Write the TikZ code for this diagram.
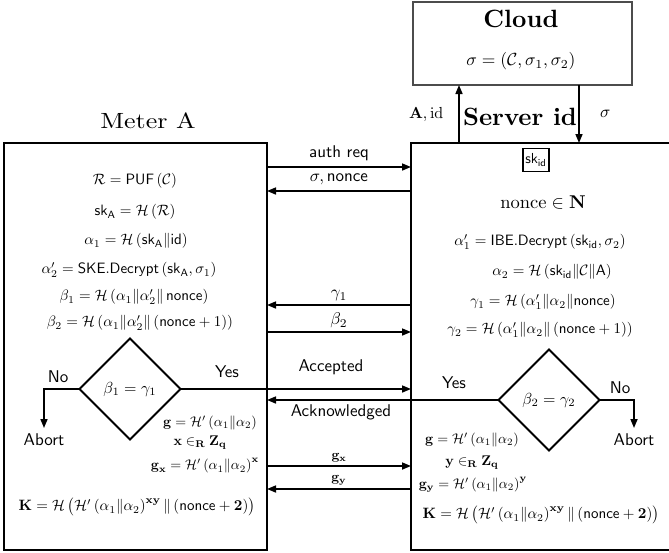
\documentclass[tikz,border=0pt]{standalone}
\usepackage{amsmath}
\usepackage{amssymb}
\usetikzlibrary{positioning, arrows.meta, shapes.geometric}

\newcommand{\Hs}{\mathcal{H}}
\newcommand{\nc}{\mathsf{nonce}}

\begin{document}
\begin{tikzpicture}[
  x=1pt, y=-1pt,
  font=\fontsize{10}{12}\selectfont,
  party/.style={draw, line width=2pt, minimum width=263pt, minimum height=407pt, inner sep=0pt, outer sep=0pt},
  store/.style={draw=black!70, line width=2pt, minimum width=219pt, minimum height=83pt, inner sep=0pt, outer sep=0pt},
  msg/.style={-{Triangle[length=9pt, width=7pt]}, line width=1.6pt},
  check/.style={diamond, draw, line width=2pt, aspect=1, minimum size=101pt, inner sep=0pt, outer sep=0pt},
  txt/.style={scale=1.5},
  keytxt/.style={scale=1.4},
  lbl/.style={font=\fontsize{10}{12}\sffamily, scale=1.7},
  mlbl/.style={scale=1.7}
]
  \useasboundingbox (0,0) rectangle (669,552);

  % the three parties
  \node[party] (meter) at (135.5,346.5) {};
  \node[party, minimum width=262pt] (server) at (542,346.5) {};
  \node[store] (cloud) at (522.5,43.5) {};

  \node[xscale=2.6, yscale=2.2] (meterT) at (148,121) {Meter A};
  \node[scale=2.5, font=\bfseries] (serverT) at (520,117) {Server id};
  \node[scale=2.5, font=\bfseries] (cloudT) at (521,19) {Cloud};
  \node[scale=1.75] (sigma) at (521,61) {$\sigma=\left(\mathcal{C},\sigma_1,\sigma_2\right)$};

  % server <-> cloud
  \coordinate (xup) at (459,0);
  \coordinate (xdown) at (579,0);
  \draw[msg] (server.north -| xup) -- (cloud.south -| xup) node[midway, left=9pt, scale=1.6] {$\mathbf{A},\mathrm{id}$};
  \draw[msg] (cloud.south -| xdown) -- (server.north -| xdown) node[midway, right=14pt, mlbl] {$\sigma$};

  % meter computations
  \node[txt] (m1) at (135,181) {$\mathcal{R}=\mathsf{PUF}\left(\mathcal{C}\right)$};
  \node[txt] (m2) at (135,212) {$\mathsf{sk}_{\mathsf{A}}=\Hs\left(\mathcal{R}\right)$};
  \node[txt] (m3) at (136,241) {$\alpha_1=\Hs\left(\mathsf{sk}_{\mathsf{A}}\|\mathsf{id}\right)$};
  \node[txt] (m4) at (129,270) {$\alpha'_2=\mathsf{SKE.Decrypt}\left(\mathsf{sk}_{\mathsf{A}},\sigma_1\right)$};
  \node[txt] (m5) at (134,297) {$\beta_1=\Hs\left(\alpha_1\|\alpha'_2\|\,\nc\right)$};
  \node[txt] (m6) at (140,323) {$\beta_2=\Hs\left(\alpha_1\|\alpha'_2\|\left(\nc+1\right)\right)$};

  % server computations
  \node[draw, line width=1.5pt, inner sep=1.5pt, minimum height=16pt, scale=1.45] (skid) at (536,160) {$\mathsf{sk}_{\mathsf{id}}$};
  \node[scale=1.85] (s0) at (543,203) {$\mathrm{nonce}\in\mathbf{N}$};
  \node[txt] (s1) at (540,242) {$\alpha'_1=\mathsf{IBE.Decrypt}\left(\mathsf{sk}_{\mathsf{id}},\sigma_2\right)$};
  \node[txt] (s2) at (552,272) {$\alpha_2=\Hs\left(\mathsf{sk}_{\mathsf{id}}\|\mathcal{C}\|\mathsf{A}\right)$};
  \node[txt] (s3) at (543,302) {$\gamma_1=\Hs\left(\alpha'_1\|\alpha_2\|\nc\right)$};
  \node[txt] (s4) at (540,330) {$\gamma_2=\Hs\left(\alpha'_1\|\alpha_2\|\left(\nc+1\right)\right)$};

  % messages between meter and server
  \coordinate (y1) at (0,167);
  \coordinate (y2) at (0,191);
  \coordinate (y3) at (0,305);
  \coordinate (y4) at (0,332);
  \coordinate (y5) at (0,466);
  \coordinate (y6) at (0,489);
  \draw[msg] (meter.east |- y1) -- (server.west |- y1) node[midway, above=-1pt, lbl] {auth req};
  \draw[msg] (server.west |- y2) -- (meter.east |- y2) node[midway, above=-1pt, mlbl] {$\sigma,\nc$};
  \draw[msg] (server.west |- y3) -- (meter.east |- y3) node[midway, above=-3pt, mlbl] {$\gamma_1$};
  \draw[msg] (meter.east |- y4) -- (server.west |- y4) node[midway, above=-3pt, mlbl] {$\beta_2$};
  \draw[msg] (meter.east |- y5) -- (server.west |- y5) node[midway, above=-2pt, scale=1.36] {$\mathbf{g_x}$};
  \draw[msg] (server.west |- y6) -- (meter.east |- y6) node[midway, above=-2pt, scale=1.36] {$\mathbf{g_y}$};

  % checks
  \node[check] (chkA) at (130,389) {\scalebox{1.6}{$\beta_1=\gamma_1$}};
  \node[check] (chkS) at (549,400) {\scalebox{1.6}{$\beta_2=\gamma_2$}};
  \node[lbl] (abortA) at (44,440) {Abort};
  \node[lbl] (abortS) at (634,440) {Abort};
  \draw[msg] (chkA.west) -| node[pos=0.3, above=-1pt, lbl] {No} (abortA.north);
  \draw[msg] (chkS.east) -| node[pos=0.3, above=-1pt, lbl] {No} (abortS.north);
  \draw[msg] (chkA.east) -- (server.west |- chkA.east);
  \draw[msg] (chkS.west) -- (meter.east |- chkS.west);
  \node[lbl] (yesA) at (227,372) {Yes};
  \node[lbl] (yesS) at (454,383) {Yes};
  \node[lbl] (acc) at (331,367) {Accepted};
  \node[lbl] (ack) at (341,412) {Acknowledged};

  % key agreement at the meter
  \node[keytxt] (m7) at (210,423) {$\mathbf{g}=\Hs'\left(\alpha_1\|\alpha_2\right)$};
  \node[keytxt] (m8) at (200,443) {$\mathbf{x}\in_{\mathbf{R}}\mathbf{Z_q}$};
  \node[keytxt] (m9) at (205,466) {$\mathbf{g_x}=\Hs'\left(\alpha_1\|\alpha_2\right)^{\mathbf{x}}$};
  \node[txt] (m10) at (137,507) {$\mathbf{K}=\Hs\left(\Hs'\left(\alpha_1\|\alpha_2\right)^{\mathbf{xy}}\|\left(\nc+\mathbf{2}\right)\right)$};

  % key agreement at the server
  \node[keytxt] (s5) at (472,440) {$\mathbf{g}=\Hs'\left(\alpha_1\|\alpha_2\right)$};
  \node[keytxt] (s6) at (472,463) {$\mathbf{y}\in_{\mathbf{R}}\mathbf{Z_q}$};
  \node[keytxt] (s7) at (473,485) {$\mathbf{g_y}=\Hs'\left(\alpha_1\|\alpha_2\right)^{\mathbf{y}}$};
  \node[txt] (s8) at (541,515) {$\mathbf{K}=\Hs\left(\Hs'\left(\alpha_1\|\alpha_2\right)^{\mathbf{xy}}\|\left(\nc+\mathbf{2}\right)\right)$};
\end{tikzpicture}
\end{document}
